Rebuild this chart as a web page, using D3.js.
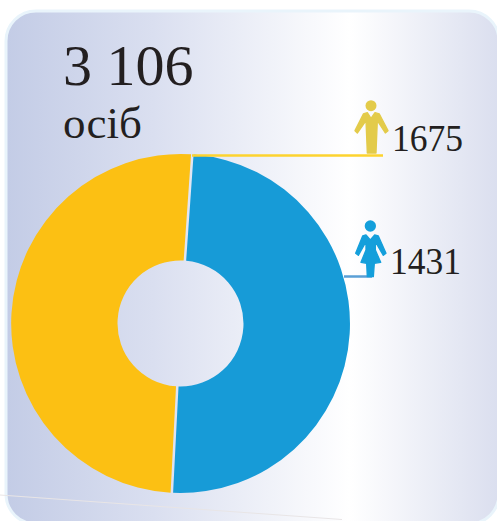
<!DOCTYPE html>
<html>
<head>
<meta charset="utf-8">
<script src="https://cdn.jsdelivr.net/npm/d3@7"></script>
<style>
  html, body { margin: 0; padding: 0; background: #fff; overflow: hidden; }
  svg { display: block; }
  text { font-family: "Liberation Serif", serif; fill: #231f20; }
</style>
</head>
<body>
<div id="chart"></div>
<script>
// values
var categories = ["жінки", "чоловіки"];
var counts = [1431, 1675];
// the slices in the picture are nearly even, they do not follow the counts
var sliceShares = [49.7, 50.3];
var sliceColors = ["#179bd7", "#fcc013"];
var totalLabel = "3 106";
var unitLabel = "осіб";

var width = 497, height = 521;
var toRad = Math.PI / 180;

var svg = d3.select("#chart")
  .append("svg")
    .attr("width", width)
    .attr("height", height);

// background panel gradient
var grad = svg.append("defs").append("linearGradient")
    .attr("id", "panel")
    .attr("gradientUnits", "userSpaceOnUse")
    .attr("x1", 6).attr("x2", 497).attr("y1", 0).attr("y2", 0);
grad.append("stop").attr("offset", "0%").attr("stop-color", "#c3cce6");
grad.append("stop").attr("offset", "30%").attr("stop-color", "#dadff0");
grad.append("stop").attr("offset", "70%").attr("stop-color", "#ffffff");
grad.append("stop").attr("offset", "100%").attr("stop-color", "#dbdfef");

// panel runs past the right and bottom edge of the page
svg.append("rect")
    .attr("x", 6).attr("y", 11)
    .attr("width", 493).attr("height", 513)
    .attr("rx", 30).attr("ry", 30)
    .attr("fill", "url(#panel)")
    .attr("stroke", "#e9f4fb")
    .attr("stroke-width", 3);

// faint stray line near the bottom
svg.append("line")
    .attr("x1", 0).attr("y1", 495)
    .attr("x2", 342).attr("y2", 519.5)
    .attr("stroke", "#e8e5e6")
    .attr("stroke-width", 1);

// donut
var pie = d3.pie().sort(null)
    .startAngle(4 * toRad)
    .endAngle(364 * toRad)
    .padAngle(2.5 / 170);
var arc = d3.arc().innerRadius(63).outerRadius(169.5).padRadius(170);

var donut = svg.append("g")
    .attr("transform", "translate(180.5,323.5)");

donut.selectAll("path")
  .data(pie(sliceShares))
  .enter()
  .append("path")
    .attr("d", arc)
    .attr("fill", function(d, i) { return sliceColors[i]; });

// leader lines
svg.append("line")
    .attr("x1", 192).attr("y1", 155.5)
    .attr("x2", 383).attr("y2", 155.5)
    .attr("stroke", "#fdd32f")
    .attr("stroke-width", 2.5);
svg.append("line")
    .attr("x1", 344).attr("y1", 276.5)
    .attr("x2", 372).attr("y2", 276.5)
    .attr("stroke", "#5a9fd6")
    .attr("stroke-width", 2.5);

// person icons, drawn in zoomed units
var icons = svg.append("g")
    .attr("transform", "translate(340,90) scale(0.3333)");

icons.append("circle")
    .attr("cx", 93).attr("cy", 47).attr("r", 16.5)
    .attr("fill", "#e3cb4a");
icons.append("path")
    .attr("d", "M82,68 L70,72 L45,122 L52,129 L78,92 L82,189 L108,189 L112,92 L136,129 L144,122 L118,72 L105,68 L93,85 Z")
    .attr("fill", "#e3cb4a")
    .attr("stroke", "#e3cb4a")
    .attr("stroke-width", 4)
    .attr("stroke-linejoin", "round");

icons.append("circle")
    .attr("cx", 91).attr("cy", 408).attr("r", 17)
    .attr("fill", "#149fdb");
icons.append("path")
    .attr("d", "M78,435 L68,438 L47,490 L55,496 L78,455 L78,480 L63,517 L80,520 L82,560 L100,560 L103,520 L122,517 L106,480 L106,455 L130,496 L138,490 L115,438 L104,435 L91,450 Z")
    .attr("fill", "#149fdb")
    .attr("stroke", "#149fdb")
    .attr("stroke-width", 4)
    .attr("stroke-linejoin", "round");

// labels
svg.append("text")
    .attr("x", 63).attr("y", 85)
    .style("font-size", "58px")
    .text(totalLabel);
svg.append("text")
    .attr("x", 63).attr("y", 138)
    .style("font-size", "45px")
    .text(unitLabel);
svg.append("text")
    .attr("x", 392).attr("y", 151)
    .style("font-size", "38px")
    .attr("textLength", 71)
    .attr("lengthAdjust", "spacingAndGlyphs")
    .text(counts[1]);
svg.append("text")
    .attr("x", 390).attr("y", 274)
    .style("font-size", "38px")
    .attr("textLength", 71)
    .attr("lengthAdjust", "spacingAndGlyphs")
    .text(counts[0]);
</script>
</body>
</html>
